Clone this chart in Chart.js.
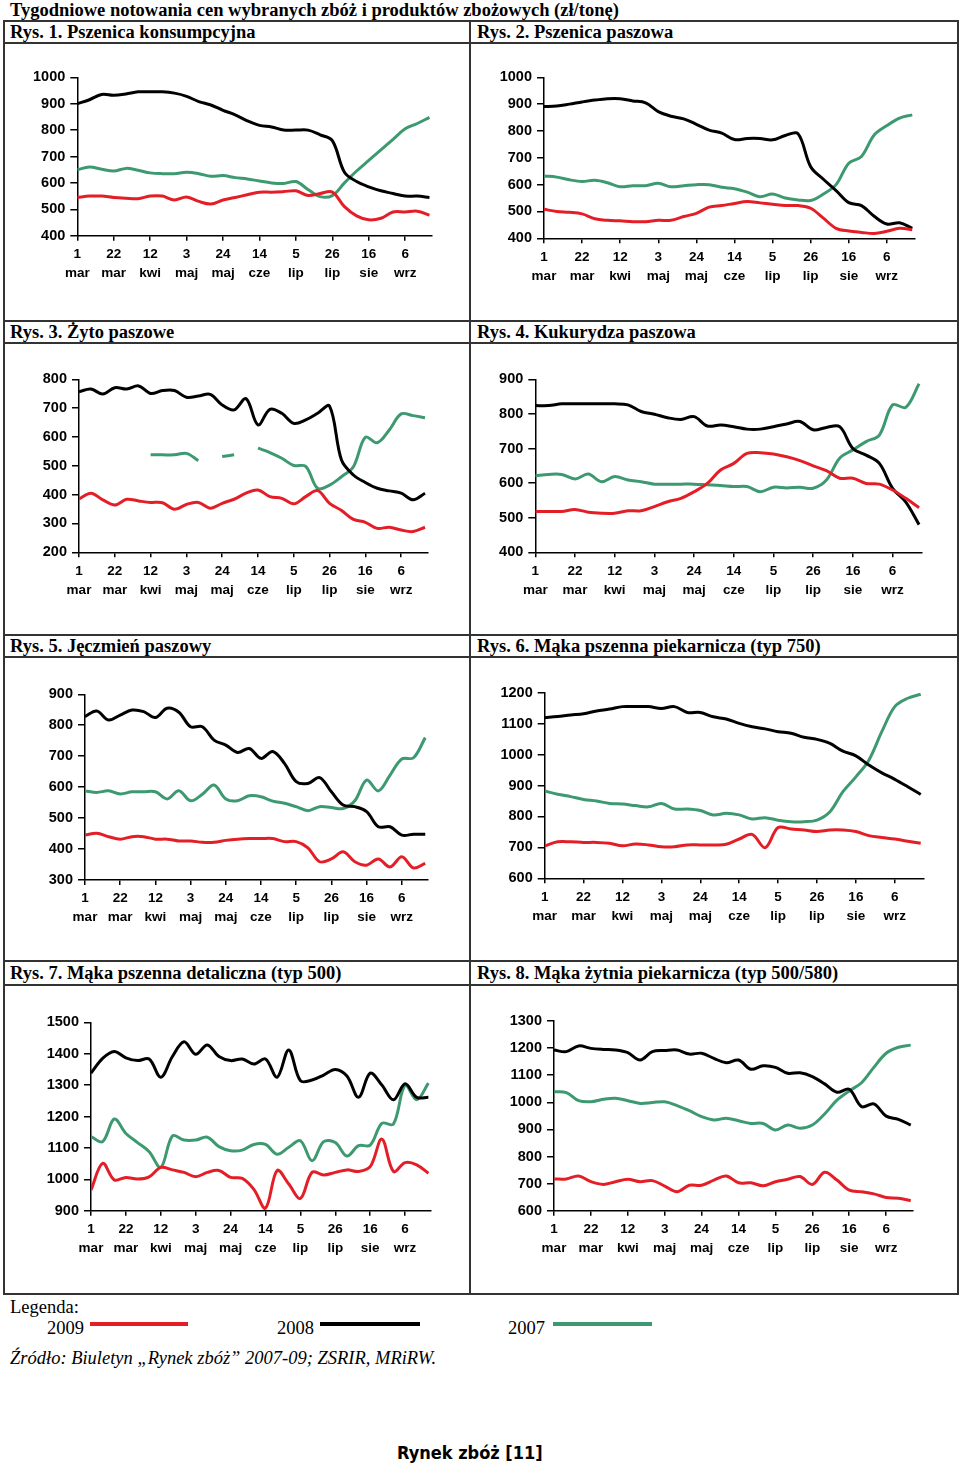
<!DOCTYPE html>
<html lang="pl">
<head>
<meta charset="utf-8">
<script src="https://cdn.jsdelivr.net/npm/chart.js@4.4.1/dist/chart.umd.min.js"></script>
<style>
  html, body { margin: 0; padding: 0; background: #fff; }
  body { width: 960px; height: 1464px; position: relative; overflow: hidden; }
  .t { position: absolute; white-space: nowrap; font-family: "Liberation Serif", "Times New Roman", serif; color: #000; line-height: 1; }
  .b { font-weight: bold; font-size: 18.5px; }
  .hl { position: absolute; background: #333; }
  canvas { position: absolute; }
  .leg { position: absolute; height: 4px; }
</style>
</head>
<body>
<div class="t b" style="left:10px; top:1px;">Tygodniowe notowania cen wybranych zbóż i produktów zbożowych (zł/tonę)</div>

<!-- grid lines -->
<div class="hl" style="left:3px; top:20px; width:956px; height:2px;"></div>
<div class="hl" style="left:3px; top:42px; width:956px; height:2px;"></div>
<div class="hl" style="left:3px; top:320px; width:956px; height:2px;"></div>
<div class="hl" style="left:3px; top:342px; width:956px; height:2px;"></div>
<div class="hl" style="left:3px; top:634px; width:956px; height:2px;"></div>
<div class="hl" style="left:3px; top:656px; width:956px; height:2px;"></div>
<div class="hl" style="left:3px; top:960px; width:956px; height:2px;"></div>
<div class="hl" style="left:3px; top:984px; width:956px; height:2px;"></div>
<div class="hl" style="left:3px; top:1293px; width:956px; height:2px;"></div>
<div class="hl" style="left:3px; top:20px; width:2px; height:1275px;"></div>
<div class="hl" style="left:469px; top:20px; width:2px; height:1275px;"></div>
<div class="hl" style="left:957px; top:20px; width:2px; height:1275px;"></div>

<!-- headers -->
<div class="t b" style="left:10px; top:23px;">Rys. 1. Pszenica konsumpcyjna</div>
<div class="t b" style="left:477px; top:23px;">Rys. 2. Pszenica paszowa</div>
<div class="t b" style="left:10px; top:323px;">Rys. 3. Żyto paszowe</div>
<div class="t b" style="left:477px; top:323px;">Rys. 4. Kukurydza paszowa</div>
<div class="t b" style="left:10px; top:637px;">Rys. 5. Jęczmień paszowy</div>
<div class="t b" style="left:477px; top:637px;">Rys. 6. Mąka pszenna piekarnicza (typ 750)</div>
<div class="t b" style="left:10px; top:964px;">Rys. 7. Mąka pszenna detaliczna (typ 500)</div>
<div class="t b" style="left:477px; top:964px;">Rys. 8. Mąka żytnia piekarnicza (typ 500/580)</div>

<canvas id="c1"></canvas>
<canvas id="c2"></canvas>
<canvas id="c3"></canvas>
<canvas id="c4"></canvas>
<canvas id="c5"></canvas>
<canvas id="c6"></canvas>
<canvas id="c7"></canvas>
<canvas id="c8"></canvas>

<!-- legend -->
<div class="t" style="left:10px; top:1298px; font-size:18.5px;">Legenda:</div>
<div class="t" style="left:47px; top:1319px; font-size:18.5px;">2009</div>
<div class="leg" style="left:90px; top:1322px; width:98px; background:#e41e26;"></div>
<div class="t" style="left:277px; top:1319px; font-size:18.5px;">2008</div>
<div class="leg" style="left:320px; top:1322px; width:100px; background:#000;"></div>
<div class="t" style="left:508px; top:1319px; font-size:18.5px;">2007</div>
<div class="leg" style="left:553px; top:1322px; width:99px; background:#3d9970;"></div>
<div class="t" style="left:10px; top:1349px; font-size:18.5px; font-style:italic;">Źródło: Biuletyn „Rynek zbóż” 2007-09; ZSRIR, MRiRW.</div>
<div class="t" style="left:397px; top:1444px; font-size:18px; font-weight:bold; font-family:'DejaVu Sans Condensed','DejaVu Sans',sans-serif; font-stretch:condensed;">Rynek zbóż [11]</div>

<script>
// weekly quotation dates (x categories)
const weeks = ['1 mar','8 mar','15 mar','22 mar','29 mar','5 kwi','12 kwi','19 kwi','26 kwi','3 maj',
  '10 maj','17 maj','24 maj','31 maj','7 cze','14 cze','21 cze','28 cze','5 lip','12 lip',
  '19 lip','26 lip','2 sie','9 sie','16 sie','23 sie','30 sie','6 wrz','13 wrz','20 wrz'];
const labelEvery = 3;
const seriesNames = ['2009', '2008', '2007'];

// Rys. 1. Pszenica konsumpcyjna
const rys1_2009 = [545,550,550,545,542,540,550,550,535,547,530,520,535,545,555,565,565,567,570,552,560,565,510,475,460,466,490,490,493,478];
const rys1_2008 = [900,915,935,932,937,945,945,945,940,928,908,895,875,858,835,818,812,800,800,800,782,760,640,605,585,570,560,550,550,545];
const rys1_2007 = [650,660,652,645,655,648,638,635,635,640,635,625,628,620,615,607,600,598,605,575,548,552,600,645,685,725,765,805,825,848];
const rys1_yTicks = [400, 1000];

// Rys. 2. Pszenica paszowa
const rys2_2009 = [508,500,497,491,473,467,465,462,462,467,467,481,493,516,522,530,537,532,527,522,522,512,475,437,427,422,418,426,437,432];
const rys2_2008 = [891,893,900,908,915,920,920,912,905,872,855,845,825,803,792,768,772,772,767,783,790,667,620,578,533,522,482,453,458,437];
const rys2_2007 = [632,628,618,612,616,607,592,596,596,605,592,596,600,600,590,585,572,555,565,550,543,541,565,600,680,705,785,820,848,860];
const rys2_yTicks = [400, 1000];

// Rys. 3. Żyto paszowe
const rys3_2009 = [385,405,382,364,384,378,373,372,349,366,373,353,370,384,405,416,393,387,368,393,414,370,345,314,304,283,287,277,272,287];
const rys3_2008 = [757,766,749,771,766,777,751,761,761,738,742,748,711,694,733,642,696,682,647,659,682,707,520,468,442,422,413,405,382,405];
const rys3_2007 = [null,null,null,null,null,null,538,538,538,543,518,null,532,538,null,561,546,526,501,498,422,433,462,497,599,580,624,680,674,667];
const rys3_yTicks = [200, 800];

// Rys. 4. Kukurydza paszowa
const rys4_2009 = [518,518,518,524,516,513,513,520,520,532,546,556,575,599,638,657,686,688,684,676,665,650,636,614,614,599,597,580,556,529];
const rys4_2008 = [824,824,829,829,829,829,829,826,807,799,789,784,792,765,768,763,756,756,763,771,778,754,761,763,700,681,657,585,545,480];
const rys4_2007 = [621,625,625,612,626,604,619,609,604,597,597,597,597,595,593,590,590,575,588,586,588,585,609,672,696,720,739,826,819,887];
const rys4_yTicks = [400, 900];

// Rys. 5. Jęczmień paszowy
const rys5_2009 = [445,451,440,432,440,440,432,432,426,426,422,422,428,432,434,434,434,424,424,404,359,368,391,359,348,368,342,375,339,354];
const rys5_2008 = [828,846,817,833,849,844,825,855,842,795,795,752,736,712,725,693,715,677,618,612,631,585,542,537,521,472,472,445,448,448];
const rys5_2007 = [588,583,588,578,585,585,585,562,588,556,577,607,562,556,572,569,555,548,537,524,537,534,531,556,623,588,639,691,695,760];
const rys5_yTicks = [300, 900];

// Rys. 6. Mąka pszenna piekarnicza (typ 750)
const rys6_2009 = [705,718,718,716,716,713,705,711,708,702,702,708,708,708,710,727,742,699,764,759,756,751,756,756,751,738,732,727,720,713];
const rys6_2008 = [1119,1123,1128,1132,1141,1147,1155,1155,1155,1149,1155,1136,1136,1122,1115,1101,1090,1083,1074,1069,1056,1049,1036,1011,996,966,941,920,896,871];
const rys6_2007 = [882,872,864,855,850,842,840,835,831,842,824,824,819,805,810,805,792,796,788,783,783,788,815,880,928,982,1074,1155,1182,1195];
const rys6_yTicks = [600, 1200];

// Rys. 7. Mąka pszenna detaliczna (typ 500)
const rys7_2009 = [966,1051,998,1006,1001,1008,1038,1030,1022,1008,1022,1028,1006,1003,968,908,1028,985,939,1022,1014,1022,1030,1025,1040,1128,1025,1053,1046,1019];
const rys7_2008 = [1338,1385,1407,1387,1378,1383,1325,1391,1438,1398,1428,1391,1378,1383,1367,1383,1325,1412,1314,1316,1332,1350,1329,1261,1338,1300,1253,1304,1261,1261];
const rys7_2007 = [1136,1120,1192,1146,1117,1088,1038,1138,1125,1125,1134,1104,1091,1093,1111,1111,1080,1102,1123,1059,1120,1117,1074,1107,1109,1178,1176,1300,1253,1306];
const rys7_yTicks = [900, 1500];

// Rys. 8. Mąka żytnia piekarnicza (typ 500/580)
const rys8_2009 = [717,717,728,707,697,707,716,707,711,691,670,694,694,713,728,703,703,692,707,716,726,697,742,713,676,670,662,649,646,637];
const rys8_2008 = [1193,1187,1208,1199,1195,1193,1183,1156,1187,1191,1193,1178,1181,1162,1146,1156,1122,1135,1129,1107,1109,1095,1068,1037,1048,984,994,949,937,916];
const rys8_2007 = [1039,1036,1006,1002,1011,1015,1006,996,999,1002,988,969,947,935,941,932,922,922,898,916,904,916,957,1008,1042,1072,1129,1181,1203,1211];
const rys8_yTicks = [600, 1300];

const colors = { '2009': '#e41e26', '2008': '#000000', '2007': '#3d9970' };

Chart.defaults.font.family = 'Arial, "Liberation Sans", sans-serif';
Chart.defaults.color = '#000';

// layout: cell rectangles and plot-area rectangles (page pixels)
const cells = {
  c1: [5, 44, 469, 320], c2: [471, 44, 957, 320],
  c3: [5, 344, 469, 634], c4: [471, 344, 957, 634],
  c5: [5, 658, 469, 960], c6: [471, 658, 957, 960],
  c7: [5, 986, 469, 1293], c8: [471, 986, 957, 1293]
};
const plots = {
  c1: [77.3, 77.3, 431.9, 235.7], c2: [544, 77.3, 914.8, 238.3],
  c3: [79, 379.3, 427.4, 552.3],  c4: [535.3, 379.3, 921.7, 552.3],
  c5: [85, 694.3, 427.6, 880],    c6: [544.7, 692.7, 923.3, 878.3],
  c7: [91, 1022.3, 430.7, 1210.7], c8: [554, 1021, 913.2, 1210.7]
};

function makeChart(id, yTicks, s2009, s2008, s2007) {
  const cell = cells[id], plot = plots[id];
  const cv = document.getElementById(id);
  const w = cell[2] - cell[0], h = cell[3] - cell[1];
  cv.width = w; cv.height = h;
  cv.style.left = cell[0] + 'px'; cv.style.top = cell[1] + 'px';
  cv.style.width = w + 'px'; cv.style.height = h + 'px';
  const yW = plot[0] - cell[0];
  const xH = cell[3] - plot[3];
  const series = [s2009, s2008, s2007];
  const datasets = series.map((s, k) => ({
    label: seriesNames[k],
    data: s.map((v, i) => ({ x: i, y: v })),
    borderColor: colors[seriesNames[k]],
    borderWidth: 3,
    pointRadius: 0,
    tension: 0.35,
    fill: false,
    spanGaps: false
  }));
  return new Chart(cv, {
    type: 'line',
    data: { datasets },
    options: {
      responsive: false,
      animation: false,
      devicePixelRatio: 1,
      layout: { padding: { left: 0, top: plot[1] - cell[1], right: cell[2] - plot[2], bottom: 0 } },
      plugins: { legend: { display: false }, title: { display: false }, tooltip: { enabled: false } },
      scales: {
        x: {
          type: 'linear',
          min: 0,
          max: weeks.length - 1 + 0.2,
          afterBuildTicks: (s) => {
            s.ticks = weeks.map((w, i) => ({ value: i })).filter(t => t.value % labelEvery === 0);
          },
          afterFit: (s) => { s.height = xH; },
          ticks: {
            autoSkip: false,
            maxRotation: 0,
            padding: 4,
            font: { size: 13.5, weight: 'bold', lineHeight: 1.42 },
            callback: (v) => weeks[v] ? weeks[v].split(' ') : ''
          },
          grid: { drawOnChartArea: false, drawTicks: true, tickLength: 5, color: '#000', lineWidth: 1.5 },
          border: { display: true, color: '#000', width: 1.5 }
        },
        y: {
          type: 'linear',
          min: yTicks[0],
          max: yTicks[1],
          afterFit: (s) => { s.width = yW; },
          ticks: { stepSize: 100, padding: 5, font: { size: 14.5, weight: 'bold' }, callback: (v) => String(v) },
          grid: { drawOnChartArea: false, drawTicks: true, tickLength: 7, color: '#000', lineWidth: 1.5 },
          border: { display: true, color: '#000', width: 1.5 }
        }
      }
    }
  });
}

makeChart('c1', rys1_yTicks, rys1_2009, rys1_2008, rys1_2007);
makeChart('c2', rys2_yTicks, rys2_2009, rys2_2008, rys2_2007);
makeChart('c3', rys3_yTicks, rys3_2009, rys3_2008, rys3_2007);
makeChart('c4', rys4_yTicks, rys4_2009, rys4_2008, rys4_2007);
makeChart('c5', rys5_yTicks, rys5_2009, rys5_2008, rys5_2007);
makeChart('c6', rys6_yTicks, rys6_2009, rys6_2008, rys6_2007);
makeChart('c7', rys7_yTicks, rys7_2009, rys7_2008, rys7_2007);
makeChart('c8', rys8_yTicks, rys8_2009, rys8_2008, rys8_2007);
</script>
</body>
</html>
